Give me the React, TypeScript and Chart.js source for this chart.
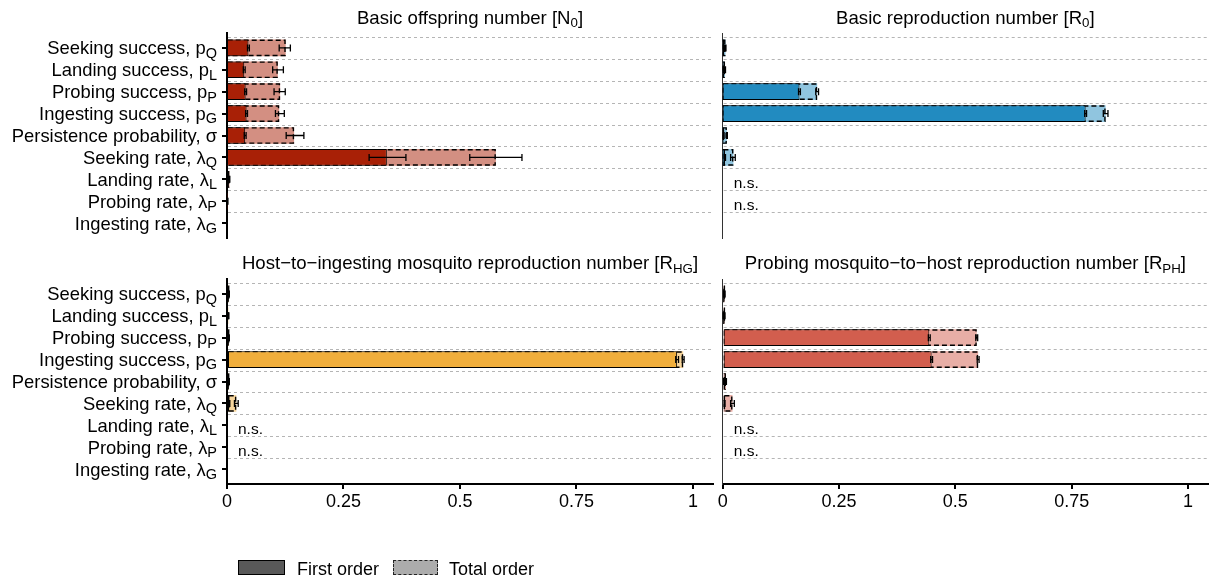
import React, { useEffect, useRef } from 'react';
import { Chart, registerables } from 'chart.js';

Chart.register(...registerables);

const FONT = '"Liberation Sans", Arial, Helvetica, sans-serif';

// ---------- data ----------
const categories = [
  'Seeking success, p',
  'Landing success, p',
  'Probing success, p',
  'Ingesting success, p',
  'Persistence probability, σ',
  'Seeking rate, λ',
  'Landing rate, λ',
  'Probing rate, λ',
  'Ingesting rate, λ',
];
const categorySubscripts = ['Q', 'L', 'P', 'G', '', 'Q', 'L', 'P', 'G'];
const xTickValues = [0, 0.25, 0.5, 0.75, 1];
const xTickLabels = ['0', '0.25', '0.5', '0.75', '1'];
const legendLabels = ['First order', 'Total order'];

// Basic offspring number N0
const n0First = [0.046, 0.037, 0.040, 0.042, 0.039, 0.343, 0.004, 0.001, 0];
const n0FirstLo = [0.044, 0.035, 0.038, 0.040, 0.037, 0.305, 0.003, 0.0005, 0];
const n0FirstHi = [0.048, 0.039, 0.042, 0.044, 0.041, 0.384, 0.005, 0.0015, 0];
const n0Total = [0.126, 0.109, 0.114, 0.112, 0.144, 0.577, 0.005, 0.001, 0];
const n0TotalLo = [0.112, 0.098, 0.101, 0.104, 0.127, 0.521, 0.004, 0.0005, 0];
const n0TotalHi = [0.136, 0.121, 0.125, 0.123, 0.165, 0.633, 0.006, 0.0015, 0];
const n0Notes = ['', '', '', '', '', '', '', '', ''];

// Basic reproduction number R0
const r0First = [0.003, 0.002, 0.165, 0.780, 0.002, 0.005, 0, 0, 0];
const r0FirstLo = [0.002, 0.001, 0.163, 0.778, 0.001, 0.004, 0, 0, 0];
const r0FirstHi = [0.004, 0.003, 0.167, 0.782, 0.003, 0.006, 0, 0, 0];
const r0Total = [0.006, 0.005, 0.203, 0.823, 0.009, 0.023, 0, 0, 0];
const r0TotalLo = [0.005, 0.004, 0.200, 0.818, 0.008, 0.017, 0, 0, 0];
const r0TotalHi = [0.007, 0.006, 0.206, 0.828, 0.010, 0.027, 0, 0, 0];
const r0Notes = ['', '', '', '', '', '', 'n.s.', 'n.s.', ''];

// Host-to-ingesting mosquito reproduction number RHG
const rhgFirst = [0.003, 0.002, 0.002, 0.966, 0.003, 0.005, 0, 0, 0];
const rhgFirstLo = [0.002, 0.001, 0.001, 0.963, 0.002, 0.004, 0, 0, 0];
const rhgFirstHi = [0.004, 0.003, 0.003, 0.969, 0.004, 0.006, 0, 0, 0];
const rhgTotal = [0.004, 0.003, 0.004, 0.979, 0.004, 0.020, 0, 0, 0];
const rhgTotalLo = [0.003, 0.002, 0.003, 0.977, 0.003, 0.016, 0, 0, 0];
const rhgTotalHi = [0.005, 0.004, 0.005, 0.981, 0.005, 0.024, 0, 0, 0];
const rhgNotes = ['', '', '', '', '', '', 'n.s.', 'n.s.', ''];

// Probing mosquito-to-host reproduction number RPH
const rphFirst = [0.003, 0.002, 0.444, 0.449, 0.003, 0.004, 0, 0, 0];
const rphFirstLo = [0.002, 0.001, 0.442, 0.447, 0.002, 0.003, 0, 0, 0];
const rphFirstHi = [0.004, 0.003, 0.446, 0.451, 0.004, 0.005, 0, 0, 0];
const rphTotal = [0.004, 0.004, 0.546, 0.549, 0.007, 0.021, 0, 0, 0];
const rphTotalLo = [0.003, 0.003, 0.544, 0.547, 0.006, 0.017, 0, 0, 0];
const rphTotalHi = [0.005, 0.005, 0.548, 0.551, 0.008, 0.025, 0, 0, 0];
const rphNotes = ['', '', '', '', '', '', 'n.s.', 'n.s.', ''];

// ---------- layout & style ----------
const W = 1210;
const H = 583;
const X_MAX = 1.043;
const Y_PAD = 0.68;
const LABEL_PX = 18.4;
const SUB_PX = 14.5;
const TITLE_PX = 18.6;
const TITLE_SUB_PX = 13.3;

type Panel = {
  key: string;
  title: [string, string, string];
  color: [number, number, number];
  first: number[];
  firstLo: number[];
  firstHi: number[];
  total: number[];
  totalLo: number[];
  totalHi: number[];
  notes: string[];
  area: { left: number; top: number; right: number; bottom: number };
  titleBaseline: number;
  showY: boolean;
  showX: boolean;
};

const PANELS: Panel[] = [
  {
    key: 'n0',
    title: ['Basic offspring number [N', '0', ']'],
    color: [168, 32, 6],
    first: n0First, firstLo: n0FirstLo, firstHi: n0FirstHi,
    total: n0Total, totalLo: n0TotalLo, totalHi: n0TotalHi,
    notes: n0Notes,
    area: { left: 227, top: 33, right: 713, bottom: 238 },
    titleBaseline: 23.5,
    showY: true,
    showX: false,
  },
  {
    key: 'r0',
    title: ['Basic reproduction number [R', '0', ']'],
    color: [34, 139, 192],
    first: r0First, firstLo: r0FirstLo, firstHi: r0FirstHi,
    total: r0Total, totalLo: r0TotalLo, totalHi: r0TotalHi,
    notes: r0Notes,
    area: { left: 722.7, top: 33, right: 1208, bottom: 238 },
    titleBaseline: 23.5,
    showY: false,
    showX: false,
  },
  {
    key: 'rhg',
    title: ['Host\u2212to\u2212ingesting mosquito reproduction number [R', 'HG', ']'],
    color: [240, 174, 60],
    first: rhgFirst, firstLo: rhgFirstLo, firstHi: rhgFirstHi,
    total: rhgTotal, totalLo: rhgTotalLo, totalHi: rhgTotalHi,
    notes: rhgNotes,
    area: { left: 227, top: 279, right: 713, bottom: 484 },
    titleBaseline: 269,
    showY: true,
    showX: true,
  },
  {
    key: 'rph',
    title: ['Probing mosquito\u2212to\u2212host reproduction number [R', 'PH', ']'],
    color: [210, 94, 78],
    first: rphFirst, firstLo: rphFirstLo, firstHi: rphFirstHi,
    total: rphTotal, totalLo: rphTotalLo, totalHi: rphTotalHi,
    notes: rphNotes,
    area: { left: 722.7, top: 279, right: 1208, bottom: 484 },
    titleBaseline: 269,
    showY: false,
    showX: true,
  },
];

function makeDecorPlugin(panel: Panel) {
  return {
    id: 'panelDecor_' + panel.key,
    beforeDatasetsDraw(chart: any) {
      const { ctx, chartArea } = chart;
      const ys = chart.scales.y;
      ctx.save();
      ctx.strokeStyle = '#b5b5b5';
      ctx.lineWidth = 1;
      ctx.setLineDash([3, 3]);
      for (let i = 0; i < categories.length; i++) {
        const py = Math.round(ys.getPixelForValue(i - 0.5)) + 0.5;
        ctx.beginPath();
        ctx.moveTo(chartArea.left + 1, py);
        ctx.lineTo(chartArea.right, py);
        ctx.stroke();
      }
      ctx.restore();
    },
    afterDatasetDraw(chart: any, args: any) {
      if (args.index !== 1) return;
      const { ctx } = chart;
      const lw = 1.4;
      ctx.save();
      ctx.strokeStyle = '#000';
      ctx.lineWidth = lw;
      ctx.setLineDash([5, 3]);
      args.meta.data.forEach((el: any) => {
        const { x, y, base, height } = el.getProps(['x', 'y', 'base', 'height'], true);
        const w = x - base;
        if (Math.abs(w) < 0.6) return;
        ctx.strokeRect(base + lw / 2, y - height / 2 + lw / 2, w - lw, height - lw);
      });
      ctx.restore();
    },
    afterDatasetsDraw(chart: any) {
      const { ctx } = chart;
      const xs = chart.scales.x;
      const ys = chart.scales.y;
      const cap = 3.5;
      ctx.save();
      ctx.strokeStyle = '#000';
      ctx.lineWidth = 1.3;
      const draw = (lo: number[], hi: number[]) => {
        for (let i = 0; i < categories.length; i++) {
          if (!(hi[i] > 0)) continue;
          const x1 = xs.getPixelForValue(lo[i]);
          const x2 = xs.getPixelForValue(hi[i]);
          const py = ys.getPixelForValue(i);
          ctx.beginPath();
          ctx.moveTo(x1, py);
          ctx.lineTo(x2, py);
          ctx.moveTo(x1, py - cap);
          ctx.lineTo(x1, py + cap);
          ctx.moveTo(x2, py - cap);
          ctx.lineTo(x2, py + cap);
          ctx.stroke();
        }
      };
      draw(panel.totalLo, panel.totalHi);
      draw(panel.firstLo, panel.firstHi);
      ctx.restore();
    },
    afterDraw(chart: any) {
      const { ctx, chartArea } = chart;
      const xs = chart.scales.x;
      const ys = chart.scales.y;
      ctx.save();
      ctx.fillStyle = '#000';
      ctx.textBaseline = 'alphabetic';

      // category labels with subscripts
      if (panel.showY) {
        const rightX = chartArea.left - 10;
        for (let i = 0; i < categories.length; i++) {
          const base = ys.getPixelForValue(i) + 6.4;
          ctx.font = `${SUB_PX}px ${FONT}`;
          const sub = categorySubscripts[i];
          const sw = sub ? ctx.measureText(sub).width : 0;
          if (sub) {
            ctx.textAlign = 'left';
            ctx.fillText(sub, rightX - sw, base + 3.5);
          }
          ctx.font = `${LABEL_PX}px ${FONT}`;
          ctx.textAlign = 'right';
          ctx.fillText(categories[i], rightX - sw, base);
        }
      }

      // title with subscript
      const [pre, sub, post] = panel.title;
      ctx.font = `${TITLE_PX}px ${FONT}`;
      const wPre = ctx.measureText(pre).width;
      const wPost = ctx.measureText(post).width;
      ctx.font = `${TITLE_SUB_PX}px ${FONT}`;
      const wSub = ctx.measureText(sub).width;
      const cx = (chartArea.left + chartArea.right) / 2;
      let tx = cx - (wPre + wSub + wPost) / 2;
      ctx.textAlign = 'left';
      ctx.font = `${TITLE_PX}px ${FONT}`;
      ctx.fillText(pre, tx, panel.titleBaseline);
      tx += wPre;
      ctx.font = `${TITLE_SUB_PX}px ${FONT}`;
      ctx.fillText(sub, tx, panel.titleBaseline + 3.5);
      tx += wSub;
      ctx.font = `${TITLE_PX}px ${FONT}`;
      ctx.fillText(post, tx, panel.titleBaseline);

      // n.s. annotations
      ctx.font = `15.5px ${FONT}`;
      ctx.textAlign = 'left';
      for (let i = 0; i < panel.notes.length; i++) {
        if (!panel.notes[i]) continue;
        ctx.fillText(panel.notes[i], xs.getPixelForValue(0) + 11, ys.getPixelForValue(i) + 8.5);
      }
      ctx.restore();
    },
  };
}

function PanelChart({ panel }: { panel: Panel }) {
  const ref = useRef<HTMLCanvasElement | null>(null);
  useEffect(() => {
    if (!ref.current) return;
    const [r, g, b] = panel.color;
    const { area } = panel;
    const chart = new Chart(ref.current, {
      type: 'bar',
      data: {
        datasets: [
          {
            label: legendLabels[0],
            data: panel.first.map((v, i) => ({ x: v, y: i })),
            backgroundColor: `rgb(${r},${g},${b})`,
            borderColor: '#000',
            borderWidth: 1,
            borderSkipped: false,
            grouped: false,
            order: 0,
            categoryPercentage: 1,
            barPercentage: 0.76,
          },
          {
            label: legendLabels[1],
            data: panel.total.map((v, i) => ({ x: v, y: i })),
            backgroundColor: `rgba(${r},${g},${b},0.5)`,
            borderWidth: 0,
            grouped: false,
            order: 1,
            categoryPercentage: 1,
            barPercentage: 0.76,
          },
        ],
      } as any,
      options: {
        indexAxis: 'y',
        animation: false,
        responsive: false,
        events: [],
        layout: {
          padding: {
            left: 0,
            top: area.top,
            right: W - area.right,
            bottom: panel.showX ? 0 : H - area.bottom,
          },
        },
        plugins: {
          legend: { display: false },
          tooltip: { enabled: false },
          title: { display: false },
        },
        scales: {
          x: {
            type: 'linear',
            display: panel.showX,
            min: 0,
            max: X_MAX,
            bounds: 'data',
            offset: false,
            afterBuildTicks: (s: any) => {
              s.ticks = xTickValues.map((v) => ({ value: v }));
            },
            afterFit: (s: any) => {
              s.height = panel.showX ? H - area.bottom : 0;
            },
            grid: {
              offset: false,
              drawOnChartArea: false,
              drawTicks: true,
              tickLength: 5,
              lineWidth: 2,
              color: '#000',
            },
            border: { display: true, color: '#000', width: 2 },
            ticks: {
              autoSkip: false,
              maxRotation: 0,
              padding: 2,
              color: '#000',
              font: { family: FONT, size: 18 },
              callback: (v: any) => {
                const k = xTickValues.indexOf(Number(v));
                return k >= 0 ? xTickLabels[k] : '';
              },
            },
          },
          y: {
            type: 'linear',
            reverse: true,
            offset: false,
            min: -Y_PAD,
            max: categories.length - 1 + Y_PAD,
            bounds: 'data',
            afterBuildTicks: (s: any) => {
              s.ticks = categories.map((_, i) => ({ value: i }));
            },
            afterFit: (s: any) => {
              s.width = area.left;
            },
            grid: {
              display: panel.showY,
              offset: false,
              drawOnChartArea: false,
              drawTicks: true,
              tickLength: 5,
              lineWidth: 2,
              color: '#000',
            },
            border: {
              display: true,
              color: panel.showY ? '#000' : '#333',
              width: panel.showY ? 2 : 1,
            },
            ticks: { display: false },
          },
        },
      } as any,
      plugins: [makeDecorPlugin(panel)],
    });
    return () => chart.destroy();
  }, [panel]);
  return (
    <canvas
      ref={ref}
      width={W}
      height={H}
      style={{ position: 'absolute', left: 0, top: 0, width: W, height: H }}
    />
  );
}

export default function App() {
  const textStyle: React.CSSProperties = {
    position: 'absolute',
    top: 558.5,
    font: `18px ${FONT}`,
    lineHeight: '20px',
    color: '#000',
    whiteSpace: 'nowrap',
  };
  return (
    <div
      style={{
        position: 'absolute',
        left: 0,
        top: 0,
        width: W,
        height: H,
        background: '#fff',
        overflow: 'hidden',
      }}
    >
      {PANELS.map((p) => (
        <PanelChart key={p.key} panel={p} />
      ))}
      <div
        style={{
          position: 'absolute',
          left: 238,
          top: 560,
          width: 47,
          height: 15,
          boxSizing: 'border-box',
          background: '#595959',
          border: '1px solid #000',
        }}
      />
      <div style={{ ...textStyle, left: 297 }}>{legendLabels[0]}</div>
      <div
        style={{
          position: 'absolute',
          left: 393,
          top: 560,
          width: 45,
          height: 15,
          boxSizing: 'border-box',
          background: '#acacac',
          border: '1px dashed #222',
        }}
      />
      <div style={{ ...textStyle, left: 449 }}>{legendLabels[1]}</div>
    </div>
  );
}
